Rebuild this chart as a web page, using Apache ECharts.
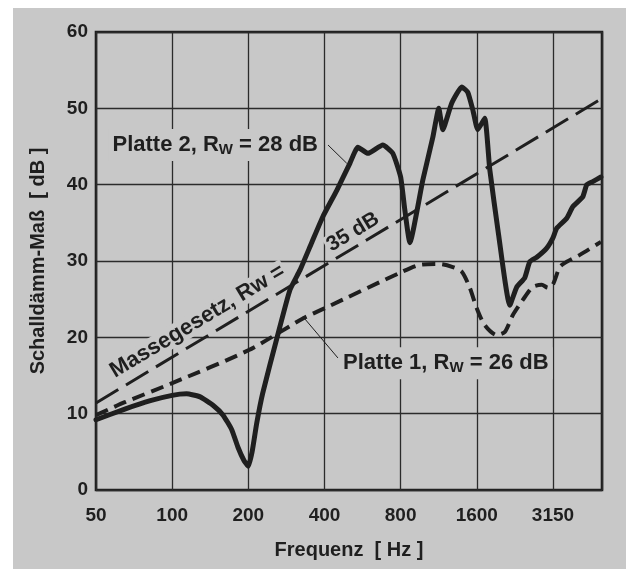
<!DOCTYPE html>
<html><head><meta charset="utf-8">
<script src="https://cdn.jsdelivr.net/npm/echarts@6/dist/echarts.min.js"></script>
<style>html,body{margin:0;padding:0;background:#fff;}#c{width:626px;height:569px;}</style>
</head><body><div id="c"></div>
<script>
// ---- data ----
const tickLabels = ['50', '100', '200', '400', '800', '1600', '3150'];
const fStart = 50;   // Hz at left edge
const fEnd = 5000;   // Hz at right edge
const yTicks = [0, 10, 20, 30, 40, 50, 60];

const massFreq = [50, 5000];
const massVals = [11.4, 51.3];

const p1Freq = [50, 65, 100, 200, 330, 400, 800, 953, 1143, 1286, 1396, 1501, 1600, 1720, 1919, 2064, 2219, 2432, 2663, 2890, 3053, 3196, 3404, 3627, 4085, 4950];
const p1Vals = [9.8, 11.5, 14.0, 18.3, 22.5, 23.8, 28.5, 29.5, 29.6, 29.2, 28.6, 26.5, 23.8, 21.6, 20.3, 20.7, 22.9, 24.9, 26.6, 26.9, 26.5, 26.9, 29.2, 29.9, 30.8, 32.5];

const p2Freq = [50, 65, 82, 100, 114, 129, 145, 159, 172, 182, 192, 200, 207, 216, 228, 259, 292, 320, 356, 394, 448, 504, 542, 594, 680, 745, 800, 831, 870, 979, 1072, 1132, 1174, 1274, 1396, 1474, 1543, 1614, 1720, 1800, 1950, 2160, 2302, 2475, 2591, 2761, 3024, 3196, 3313, 3627, 3832, 4196, 4353, 4595, 4950];
const p2Vals = [9.2, 10.6, 11.7, 12.4, 12.6, 12.2, 11.1, 9.8, 7.9, 5.6, 3.9, 3.1, 5.0, 8.8, 12.7, 19.8, 26.2, 28.8, 32.4, 35.8, 39.3, 42.8, 44.9, 44.1, 45.2, 44.1, 41.0, 36.7, 32.4, 40.6, 46.2, 50.0, 47.2, 50.7, 52.8, 52.1, 49.8, 47.2, 48.7, 42.0, 33.5, 24.2, 26.6, 27.8, 29.9, 30.5, 31.7, 33.0, 34.3, 35.6, 37.1, 38.4, 40.0, 40.4, 41.0];

// annotation anchors in data units [Hz, dB]
const p2LabelAt = [148, 45.2];
const p2Leader = [[413, 45.2], [490, 42.8]];
const p1LabelAt = [1207, 16.6];
const p1Leader = [[452, 17.3], [329, 22.7]];
const massLabelAt = [126, 22.1];
const mass35At = [518, 33.8];

// ---- helpers ----
const oct = f => Math.log2(f / fStart);
const pts = (fs, vs) => fs.map((f, i) => [oct(f), vs[i]]);
const INK = '#1f1f1f';
const BG = '#c8c8c8';
const FONT = '"Liberation Sans", Arial, Helvetica, sans-serif';

const chart = echarts.init(document.getElementById('c'), null, {renderer: 'canvas'});
const option = {
  animation: false,
  backgroundColor: '#ffffff',
  grid: {left: 96, right: 24, top: 32, bottom: 79, show: true, borderColor: INK, borderWidth: 2.6, backgroundColor: 'transparent'},
  xAxis: {
    type: 'value', min: 0, max: oct(fEnd), interval: 1,
    axisLine: {show: false}, axisTick: {show: false},
    splitLine: {show: true, lineStyle: {color: '#2b2b2b', width: 1.3}},
    axisLabel: {margin: 16, color: INK, fontFamily: FONT, fontWeight: 'bold', fontSize: 19,
      formatter: v => (Math.abs(v - Math.round(v)) < 1e-6 && tickLabels[Math.round(v)] !== undefined) ? tickLabels[Math.round(v)] : ''},
    name: 'Frequenz  [ Hz ]', nameLocation: 'middle', nameGap: 50,
    nameTextStyle: {color: INK, fontFamily: FONT, fontWeight: 'bold', fontSize: 20}
  },
  yAxis: {
    type: 'value', min: yTicks[0], max: yTicks[yTicks.length - 1], interval: yTicks[1] - yTicks[0],
    axisLine: {show: false}, axisTick: {show: false},
    splitLine: {show: true, lineStyle: {color: '#2b2b2b', width: 1.3}},
    axisLabel: {margin: 8, color: INK, fontFamily: FONT, fontWeight: 'bold', fontSize: 19},
    name: 'Schalldämm-Maß  [ dB ]', nameLocation: 'middle', nameGap: 48,
    nameTextStyle: {color: INK, fontFamily: FONT, fontWeight: 'bold', fontSize: 20}
  },
  series: [
    {type: 'line', name: 'Massegesetz', data: pts(massFreq, massVals), showSymbol: false, z: 3,
      lineStyle: {color: INK, width: 3, type: [26, 9], cap: 'butt'}},
    {type: 'line', name: 'Platte 1', data: pts(p1Freq, p1Vals), showSymbol: false, smooth: 0.25, z: 4,
      lineStyle: {color: INK, width: 4, type: [13, 7], cap: 'butt'}},
    {type: 'line', name: 'Platte 2', data: pts(p2Freq, p2Vals), showSymbol: false, smooth: 0.15, z: 5,
      lineStyle: {color: INK, width: 5, join: 'round', cap: 'round'}}
  ],
  graphic: [{type: 'rect', id: 'bg', z: -100, silent: true, shape: {x: 13, y: 8, width: 640, height: 600}, style: {fill: BG}}]
};
chart.setOption(option);

const px = p => chart.convertToPixel({gridIndex: 0}, [oct(p[0]), p[1]]);
const m0 = px([massFreq[0], massVals[0]]);
const m1 = px([massFreq[1], massVals[1]]);
const ang = Math.atan2(m0[1] - m1[1], m1[0] - m0[0]);

function leader(id, a, b) {
  const A = px(a), B = px(b);
  return {type: 'line', id, z: 10, silent: true, shape: {x1: A[0], y1: A[1], x2: B[0], y2: B[1]}, style: {stroke: INK, lineWidth: 1}};
}
function plateLabel(id, at, main, sub, tail) {
  const P = px(at);
  return {type: 'text', id, z: 20, silent: true, x: P[0], y: P[1],
    style: {
      text: '{a|' + main + '}{s|' + sub + '}{a|' + tail + '}',
      align: 'center', verticalAlign: 'middle',
      backgroundColor: BG, padding: [3, 4],
      rich: {
        a: {fontFamily: FONT, fontWeight: 'bold', fontSize: 22, fill: INK, color: INK, lineHeight: 26},
        s: {fontFamily: FONT, fontWeight: 'bold', fontSize: 15, fill: INK, color: INK, lineHeight: 26, padding: [9, 0, 0, 0]}
      }
    }};
}
const ML = px(massLabelAt), M35 = px(mass35At);
chart.setOption({graphic: [
  {type: 'rect', id: 'bg', z: -100, silent: true, shape: {x: 13, y: 8, width: 640, height: 600}, style: {fill: BG}},
  leader('l2', p2Leader[0], p2Leader[1]),
  leader('l1', p1Leader[0], p1Leader[1]),
  plateLabel('t2', p2LabelAt, 'Platte 2, R', 'W', ' = 28 dB'),
  plateLabel('t1', p1LabelAt, 'Platte 1, R', 'W', ' = 26 dB'),
  {type: 'text', id: 'tm', z: 20, silent: true, x: ML[0], y: ML[1], rotation: ang,
    style: {text: 'Massegesetz, Rw =', align: 'center', verticalAlign: 'middle', fill: INK,
      font: 'bold 22px ' + FONT, backgroundColor: BG, padding: [0, 2]}},
  {type: 'text', id: 't35', z: 20, silent: true, x: M35[0], y: M35[1], rotation: ang,
    style: {text: '35 dB', align: 'center', verticalAlign: 'middle', fill: INK,
      font: 'bold 21px ' + FONT, backgroundColor: BG, padding: [0, 2]}}
]});
</script></body></html>
